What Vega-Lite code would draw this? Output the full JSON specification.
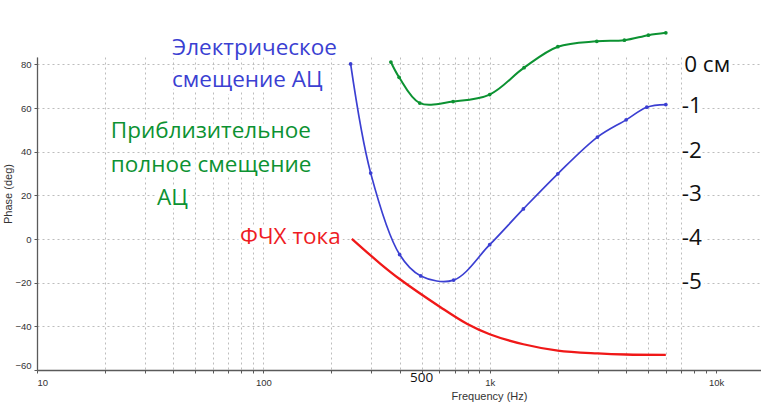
{
  "$schema": "https://vega.github.io/schema/vega-lite/v6.json",
  "width": 724,
  "height": 313,
  "autosize": {"type": "none"},
  "padding": {"left": 37, "top": 57, "right": 0, "bottom": 36},
  "background": "white",
  "config": {
    "view": {"stroke": null},
    "axis": {
      "labelFont": "Liberation Sans",
      "labelFontSize": 9.5,
      "labelColor": "#333333",
      "titleFont": "Liberation Sans",
      "titleFontSize": 11,
      "titleFontWeight": "normal",
      "titleColor": "#333333",
      "domainColor": "#5a5a5a",
      "domainWidth": 1.3,
      "tickColor": "#5a5a5a",
      "tickSize": 3,
      "gridColor": "#bdbdbd",
      "gridDash": [2, 3],
      "gridWidth": 1,
      "labelOverlap": false
    }
  },
  "datasets": {
    "curves": [
      {"series": "current", "freq": 246, "phase": 0.1},
      {"series": "current", "freq": 327, "phase": -11.1},
      {"series": "current", "freq": 400, "phase": -18.3},
      {"series": "current", "freq": 604, "phase": -31.1},
      {"series": "current", "freq": 793, "phase": -38.8},
      {"series": "current", "freq": 1000, "phase": -43.6},
      {"series": "current", "freq": 1409, "phase": -48.2},
      {"series": "current", "freq": 2000, "phase": -51.1},
      {"series": "current", "freq": 3000, "phase": -52.4},
      {"series": "current", "freq": 4000, "phase": -52.9},
      {"series": "current", "freq": 6000, "phase": -53.1},
      {"series": "electric", "freq": 243, "phase": 80.2},
      {"series": "electric", "freq": 298, "phase": 30.2},
      {"series": "electric", "freq": 400, "phase": -7.1},
      {"series": "electric", "freq": 496, "phase": -16.9},
      {"series": "electric", "freq": 693, "phase": -18.8},
      {"series": "electric", "freq": 1000, "phase": -2.6},
      {"series": "electric", "freq": 1409, "phase": 13.8},
      {"series": "electric", "freq": 2000, "phase": 29.9},
      {"series": "electric", "freq": 2993, "phase": 46.7},
      {"series": "electric", "freq": 4008, "phase": 54.6},
      {"series": "electric", "freq": 4944, "phase": 60.4},
      {"series": "electric", "freq": 6000, "phase": 61.6},
      {"series": "total", "freq": 366, "phase": 81.1},
      {"series": "total", "freq": 398, "phase": 74.1},
      {"series": "total", "freq": 491, "phase": 62.3},
      {"series": "total", "freq": 689, "phase": 63.0},
      {"series": "total", "freq": 1000, "phase": 66.2},
      {"series": "total", "freq": 1419, "phase": 78.5},
      {"series": "total", "freq": 2000, "phase": 88.1},
      {"series": "total", "freq": 2973, "phase": 90.6},
      {"series": "total", "freq": 3937, "phase": 91.1},
      {"series": "total", "freq": 5025, "phase": 93.4},
      {"series": "total", "freq": 6000, "phase": 94.5}
    ],
    "notes": [
      {"label": "Электрическое", "freq": 39.5, "phase": 84.3, "group": "electric"},
      {"label": "смещение АЦ", "freq": 39.5, "phase": 69.5, "group": "electric"},
      {"label": "Приблизительное", "freq": 21.2, "phase": 46.2, "group": "total"},
      {"label": "полное смещение", "freq": 21.2, "phase": 30.9, "group": "total"},
      {"label": "АЦ", "freq": 33.9, "phase": 15.5, "group": "total"},
      {"label": "ФЧХ тока", "freq": 78.9, "phase": -2.4, "group": "current"},
      {"label": "0 см", "freq": 7230, "phase": 76.7, "group": "depth"},
      {"label": "-1", "freq": 7060, "phase": 57.6, "group": "depth"},
      {"label": "-2", "freq": 7060, "phase": 37.1, "group": "depth"},
      {"label": "-3", "freq": 7060, "phase": 17.4, "group": "depth"},
      {"label": "-4", "freq": 7060, "phase": -2.7, "group": "depth"},
      {"label": "-5", "freq": 7060, "phase": -23.0, "group": "depth"}
    ],
    "ticknote": [
      {"label": "500", "freq": 500, "phase": -65.4}
    ]
  },
  "encoding": {
    "x": {
      "field": "freq",
      "type": "quantitative",
      "scale": {"type": "log", "domain": [10, 15800], "nice": false},
      "axis": {
        "title": "Frequency (Hz)",
        "values": [10, 20, 30, 40, 50, 60, 70, 80, 90, 100, 200, 300, 400, 500, 600, 700, 800, 900, 1000, 2000, 3000, 4000, 5000, 6000, 7000, 8000, 9000, 10000],
        "labelExpr": "datum.value === 10 ? '10' : datum.value === 100 ? '100' : datum.value === 1000 ? '1k' : datum.value === 10000 ? '10k' : ''",
        "labelPadding": 4,
        "grid": true,
        "gridOpacity": {"condition": {"test": "datum.value > 7500", "value": 0}, "value": 1},
        "titleX": 452,
        "titleY": 29,
        "titleBaseline": "alphabetic"
      }
    },
    "y": {
      "field": "phase",
      "type": "quantitative",
      "scale": {"domain": [-60, 83.4], "nice": false, "zero": false},
      "axis": {
        "title": "Phase (deg)",
        "values": [-60, -40, -20, 0, 20, 40, 60, 80],
        "labelFlush": true,
        "labelPadding": 3,
        "grid": true,
        "titleX": -24,
        "titleY": 136.5,
        "titleBaseline": "bottom",
        "encode": {"grid": {"update": {"x2": {"scale": "x", "value": 7000}}}}
      }
    }
  },
  "layer": [
    {
      "data": {"name": "curves"},
      "transform": [{"filter": "datum.series === 'current'"}],
      "mark": {"type": "line", "interpolate": "catmull-rom", "strokeWidth": 2.3, "color": "#f01818"}
    },
    {
      "data": {"name": "curves"},
      "transform": [{"filter": "datum.series === 'electric'"}],
      "mark": {"type": "line", "interpolate": "catmull-rom", "strokeWidth": 1.7, "color": "#3b3fd2"}
    },
    {
      "data": {"name": "curves"},
      "transform": [{"filter": "datum.series === 'electric'"}],
      "mark": {"type": "point", "filled": true, "size": 14, "opacity": 1, "color": "#3b3fd2"}
    },
    {
      "data": {"name": "curves"},
      "transform": [{"filter": "datum.series === 'total'"}],
      "mark": {"type": "line", "interpolate": "catmull-rom", "strokeWidth": 2, "color": "#0c9232"}
    },
    {
      "data": {"name": "curves"},
      "transform": [{"filter": "datum.series === 'total'"}],
      "mark": {"type": "point", "filled": true, "size": 14, "opacity": 1, "color": "#0c9232"}
    },
    {
      "data": {"name": "notes"},
      "mark": {"type": "text", "align": "left", "baseline": "alphabetic", "font": "Open Sans", "fontSize": 22.5, "fill": "white", "stroke": "white", "strokeWidth": 7, "strokeJoin": "round"},
      "encoding": {"text": {"field": "label"}}
    },
    {
      "data": {"name": "notes"},
      "mark": {"type": "text", "align": "left", "baseline": "alphabetic", "font": "Open Sans", "fontSize": 22.5},
      "encoding": {
        "text": {"field": "label"},
        "color": {
          "field": "group",
          "type": "nominal",
          "scale": {"domain": ["electric", "total", "current", "depth"], "range": ["#3b3fd2", "#0c9232", "#ee1c24", "#111111"]},
          "legend": null
        }
      }
    },
    {
      "data": {"name": "ticknote"},
      "mark": {"type": "text", "align": "center", "baseline": "alphabetic", "font": "Open Sans", "fontSize": 13.5, "color": "#111111"},
      "encoding": {"text": {"field": "label"}}
    }
  ]
}
